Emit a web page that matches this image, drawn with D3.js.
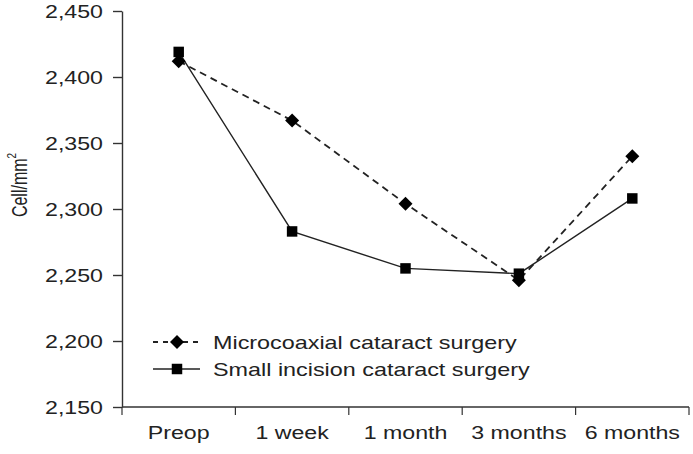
<!DOCTYPE html>
<html>
<head>
<meta charset="utf-8">
<script src="https://cdn.jsdelivr.net/npm/d3@7"></script>
<style>
    body { margin: 0; background: #fff; }
    #chart-area { width: 693px; height: 454px; }
    text { font-family: "Liberation Sans", Arial, sans-serif; fill: #222; }
</style>
</head>
<body>
<div id="chart-area"></div>
<script>

// data (endothelial cell density)
let timePoints = ["Preop", "1 week", "1 month", "3 months", "6 months"];
let microcoaxial = [2412, 2367, 2304, 2246, 2340];
let smallIncision = [2419, 2283, 2255, 2251, 2308];
let yTicks = [2150, 2200, 2250, 2300, 2350, 2400, 2450];
let seriesNames = ["Microcoaxial cataract surgery", "Small incision cataract surgery"];

class CellDensityVis {

    constructor(parentElement) {
        this.parentElement = parentElement;
        this.initVis()
    }

    initVis() {
        let vis = this;

        //margin conventions
        vis.margin = {top: 11, right: 4, bottom: 47, left: 122};
        vis.width = 693 - vis.margin.left - vis.margin.right;
        vis.height = 454 - vis.margin.top - vis.margin.bottom;

        vis.svg = d3.select("#" + vis.parentElement).append("svg")
            .attr("width", vis.width + vis.margin.left + vis.margin.right)
            .attr("height", vis.height + vis.margin.top + vis.margin.bottom);

        vis.chartArea = vis.svg.append("g")
            .attr("transform", "translate(" + vis.margin.left + "," + vis.margin.top + ")");

        //x scale (one band per time point, ticks on the band edges)
        vis.x = d3.scaleBand()
            .domain(timePoints)
            .range([0, vis.width]);

        // y scale
        vis.y = d3.scaleLinear()
            .domain([2150, 2450])
            .range([vis.height, 0]);

        //y axis
        vis.yAxisG = vis.chartArea.append("g")
            .call(d3.axisLeft(vis.y)
                .tickValues(yTicks)
                .tickSize(9)
                .tickSizeOuter(0)
                .tickFormat(d3.format(",")));
        vis.yAxisG.selectAll("text")
            .attr("x", 0)
            .attr("transform", "translate(-19,0) scale(1.22,1)")
            .style("font-size", "19px");

        //x axis, labels only
        vis.xAxisG = vis.chartArea.append("g")
            .attr("transform", "translate(0," + vis.height + ")")
            .call(d3.axisBottom(vis.x).tickSize(0).tickPadding(0));
        vis.xAxisG.select(".domain").remove();
        vis.xAxisG.selectAll("text")
            .attr("y", 0)
            .attr("dy", 0)
            .attr("transform", "translate(0,32) scale(1.22,1)")
            .style("font-size", "19px");

        // x axis line + ticks at band edges
        let edges = timePoints.map(d => vis.x(d)).concat([vis.width]);
        vis.chartArea.append("line")
            .attr("x1", 0).attr("x2", vis.width)
            .attr("y1", vis.height).attr("y2", vis.height)
            .attr("stroke", "#333").attr("stroke-width", 1.4);
        vis.chartArea.selectAll(".x-edge")
            .data(edges)
            .enter()
            .append("line")
            .attr("class", "x-edge")
            .attr("x1", d => d).attr("x2", d => d)
            .attr("y1", vis.height).attr("y2", vis.height + 8)
            .attr("stroke", "#333").attr("stroke-width", 1.2);

        vis.svg.selectAll(".domain, .tick line")
            .attr("stroke", "#333")
            .attr("stroke-width", 1.4);

        //y axis label
        let ylabel = vis.svg.append("text")
            .attr("transform", "translate(27,185) scale(1.35,1) rotate(-90)")
            .style("text-anchor", "middle")
            .style("font-size", "16px");
        ylabel.append("tspan").text("Cell/mm");
        ylabel.append("tspan")
            .attr("dy", -8)
            .style("font-size", "10px")
            .text("2");

        vis.legend = vis.svg.append("g")
            .attr("transform", "translate(153,342)");

        vis.wrangleData()
    }

    wrangleData() {
        let vis = this;

        vis.displayData = [
            {name: seriesNames[0], dash: "7,5", width: 1.8, marker: "diamond",
                values: microcoaxial.map((v, i) => ({t: timePoints[i], v: v}))},
            {name: seriesNames[1], dash: null, width: 1.4, marker: "square",
                values: smallIncision.map((v, i) => ({t: timePoints[i], v: v}))}
        ];

        vis.updateVis()
    }

    updateVis() {
        let vis = this;

        vis.line = d3.line()
            .x(d => vis.x(d.t) + vis.x.bandwidth() / 2)
            .y(d => vis.y(d.v));

        vis.symbols = {
            diamond: d3.symbol().type(d3.symbolDiamond2).size(125),
            square: d3.symbol().type(d3.symbolSquare).size(110)
        };

        vis.displayData.forEach(s => {
            vis.chartArea.append("path")
                .datum(s.values)
                .attr("fill", "none")
                .attr("stroke", "#222")
                .attr("stroke-width", s.width)
                .attr("stroke-dasharray", s.dash)
                .attr("d", vis.line);
        });

        vis.displayData.forEach(s => {
            vis.chartArea.selectAll(".pt-" + s.marker)
                .data(s.values)
                .enter()
                .append("path")
                .attr("class", "pt-" + s.marker)
                .attr("transform", d => "translate(" + (vis.x(d.t) + vis.x.bandwidth() / 2) + "," + vis.y(d.v) + ")")
                .attr("d", vis.symbols[s.marker])
                .attr("fill", "#000");
        });

        //legend rows
        let rows = vis.legend.selectAll(".legend-row")
            .data(vis.displayData)
            .enter()
            .append("g")
            .attr("class", "legend-row")
            .attr("transform", (d, i) => "translate(0," + (i * 27) + ")");

        rows.append("line")
            .attr("x1", 0).attr("x2", 47)
            .attr("stroke", "#222")
            .attr("stroke-width", d => d.width)
            .attr("stroke-dasharray", d => d.dash ? "5,5" : null);

        rows.append("path")
            .attr("transform", "translate(24,0)")
            .attr("d", d => vis.symbols[d.marker]())
            .attr("fill", "#000");

        rows.append("text")
            .attr("transform", "translate(60,0) scale(1.23,1)")
            .attr("dy", "0.35em")
            .style("font-size", "19px")
            .text(d => d.name);
    }
}

new CellDensityVis("chart-area");
</script>
</body>
</html>
